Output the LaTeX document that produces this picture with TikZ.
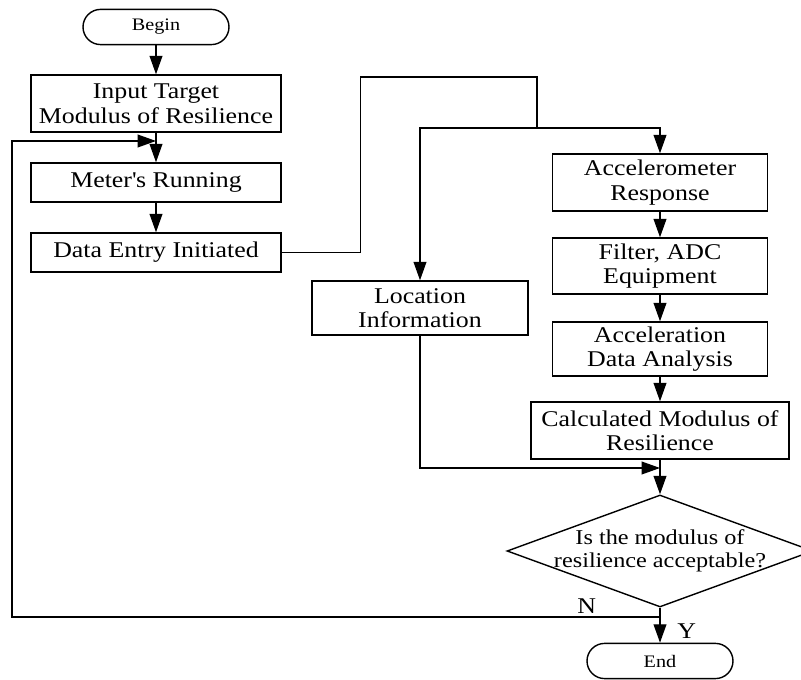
\documentclass[tikz,border=0pt]{standalone}
\usepackage{fontspec}
\setmainfont{Liberation Serif}[FakeStretch=1.15]
\usetikzlibrary{arrows.meta, positioning, shapes.geometric, calc}
\definecolor{lineColor}{RGB}{0,0,0}
\definecolor{boxTextColor}{RGB}{0,0,0}

\begin{document}
\begin{tikzpicture}[
    box/.style={draw=lineColor, line width=1pt, inner sep=1pt, align=center, text=boxTextColor, font=\fontsize{16}{17.5}\selectfont},
    terminal/.style={draw=lineColor, line width=1pt, minimum width=3.65cm, minimum height=0.88cm, rounded corners=0.44cm, text=boxTextColor, font=\fontsize{12.5}{14}\selectfont},
    decision/.style={draw=lineColor, diamond, line width=1pt, minimum width=7.65cm, minimum height=2.8cm, inner sep=0pt},
    flow/.style={draw=lineColor, line width=1pt},
    yn_text/.style={text=boxTextColor, font=\fontsize{16}{18}\selectfont},
    >={Triangle[length=0.46cm, width=0.32cm]},
    every node/.style={text=boxTextColor}
]

% Define column positions
\def\leftcol{3.9}
\def\rightcol{16.5}

\useasboundingbox (0,0) rectangle (20.025,17);

% Left column: start and data entry
\node[terminal] (begin) at (\leftcol,16.325) {Begin};
\node[box, minimum width=6.25cm, minimum height=1.425cm] (input) at (\leftcol,14.4125) {Input Target\\Modulus of Resilience};
\node[box, minimum width=6.25cm, minimum height=0.975cm] (meter) at (\leftcol,12.4375) {Meter\textquotesingle s Running};
\node[box, minimum width=6.25cm, minimum height=0.975cm] (data) at (\leftcol,10.6875) {Data Entry Initiated};

% Right column: measurement chain
\node[box, minimum width=5.375cm, minimum height=1.425cm] (accel) at (\rightcol,12.4375) {Accelerometer\\Response};
\node[box, minimum width=5.375cm, minimum height=1.4cm] (filter) at (\rightcol,10.35) {Filter, ADC\\Equipment};
\node[box, minimum width=5.375cm, minimum height=1.35cm] (analysis) at (\rightcol,8.275) {Acceleration\\Data Analysis};
\node[box, minimum width=6.45cm, minimum height=1.425cm] (calc) at (\rightcol,6.2375) {Calculated Modulus of\\Resilience};

% Middle column: location
\node[box, minimum width=5.4cm, minimum height=1.35cm] (location) at (10.5,9.3) {Location\\Information};

% Decision and end
\node[decision, label={[align=center, font=\fontsize{15}{16.5}\selectfont]center:Is the modulus of\\resilience acceptable?}] (check) at (\rightcol,3.225) {};
\node[terminal] (stop) at (\rightcol,0.475) {End};

% Helper points for the routed lines
\coordinate (split) at (13.425,13.8);
\coordinate (merge) at (\rightcol,5.3);
\coordinate (fork) at (\rightcol,1.575);
\coordinate (back) at (\leftcol,13.475);

% Connections
\draw[flow, ->] (begin) -- (input);
\draw[flow, ->] (input) -- (meter);
\draw[flow, ->] (meter) -- (data);

\draw[flow] (data.east) -- ++(1.975,0) |- (13.425,15.075) -- (split);
\draw[flow, ->] (split) -| (accel);
\draw[flow, ->] (split) -| (location);

\draw[flow, ->] (accel) -- (filter);
\draw[flow, ->] (filter) -- (analysis);
\draw[flow, ->] (analysis) -- (calc);
\draw[flow, ->] (calc) -- (check);
\draw[flow, ->] (location) |- (merge);

\draw[flow, ->] (check) -- node[yn_text, pos=0.67, right=0.3cm] (yes) {Y} (stop);
\draw[flow, ->] (fork) -- node[yn_text, pos=0.113, above=-1pt] (no) {N} (0.3,1.575) |- (back);

\end{tikzpicture}
\end{document}
